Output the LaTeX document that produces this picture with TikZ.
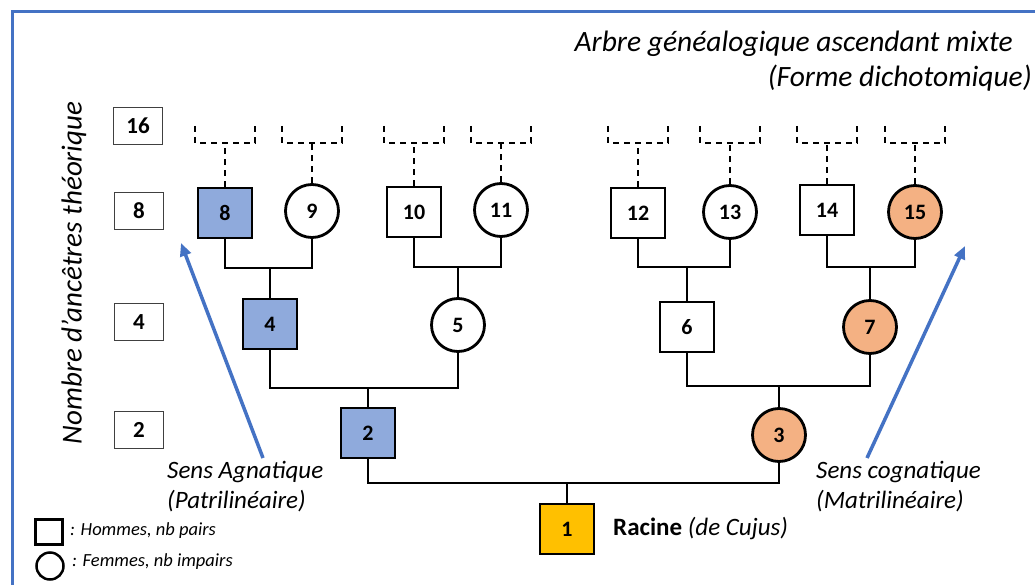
\documentclass[tikz,border=0pt]{standalone}
\usepackage{fontspec}
\setmainfont{Carlito}
\usetikzlibrary{arrows.meta,calc,shapes.geometric}
\definecolor{frameblue}{RGB}{68,114,196}
\definecolor{mblue}{RGB}{143,170,220}
\definecolor{forange}{RGB}{244,177,131}
\definecolor{ryellow}{RGB}{255,192,0}
\tikzset{
  man/.style={draw, line width=2.8pt, minimum width=54pt, minimum height=50pt, inner sep=0pt, font=\bfseries\fontsize{22}{24}\selectfont},
  woman/.style={draw, circle, line width=2.8pt, minimum size=53pt, inner sep=0pt, font=\bfseries\fontsize{22}{24}\selectfont},
  countbox/.style={draw=black!75, line width=1pt, minimum width=49pt, minimum height=37pt, inner sep=0pt, font=\bfseries\fontsize{23}{25}\selectfont},
  link/.style={line width=2pt},
  dashlink/.style={line width=2.2pt, dash pattern=on 6pt off 5pt},
  direction/.style={draw=frameblue, line width=3.5pt, -{Triangle[length=13pt,width=11pt]}},
  sidelabel/.style={anchor=west, align=left, inner sep=0pt, font=\itshape\fontsize{25}{30}\selectfont},
  legendtext/.style={anchor=west, inner sep=0pt, font=\itshape\fontsize{18.5}{20}\selectfont}
}
\newcommand\topbracket[1]{%
  \draw[dashlink] (#1.north) -- (#1.north |- 0,143);
  \draw[dashlink] ($(#1.north |- 0,126)+(-30,0)$) -- ($(#1.north |- 0,143)+(-30,0)$) -- ($(#1.north |- 0,143)+(30,0)$) -- ($(#1.north |- 0,126)+(30,0)$);
}
\newcommand\couple[4]{% left node, right node, child node, y
  \draw[link] (#1.south) -- (#1.south |- 0,#4) -| (#2.south);
  \draw[link] (#3.north) -- (#3.north |- 0,#4);
}
\begin{document}
\begin{tikzpicture}[x=1pt,y=-1pt]
\useasboundingbox (0,0) rectangle (1035,585);
\fill[white] (0,0) rectangle (1035,585);
\draw[frameblue, line width=3pt] (1040,12) -- (12,12) -- (12,590);

% title
\node[anchor=base east, inner sep=0pt, font=\itshape\fontsize{29.5}{32}\selectfont] (t1) at (1013,52) {Arbre généalogique ascendant mixte};
\node[anchor=base east, inner sep=0pt, font=\itshape\fontsize{29.5}{32}\selectfont] (t2) at (1032,87) {(Forme dichotomique)};

% vertical label
\node[rotate=90, inner sep=0pt, font=\itshape\fontsize{29}{32}\selectfont] (vl) at (74,273) {Nombre d'ancêtres théorique};

% count boxes
\node[countbox] (c16) at (138,126) {16};
\node[countbox] (c8) at (139,211) {8};
\node[countbox] (c4) at (139,322) {4};
\node[countbox] (c2) at (139,430) {2};

% generation 8-15
\node[man, fill=mblue] (n8) at (225,213) {8};
\node[woman] (n9) at (312,211) {9};
\node[man] (n10) at (414,212) {10};
\node[woman] (n11) at (501,210) {11};
\node[man] (n12) at (638,213) {12};
\node[woman] (n13) at (730,212) {13};
\node[man] (n14) at (827,210) {14};
\node[woman, fill=forange] (n15) at (915,212) {15};

% generation 4-7
\node[man, fill=mblue] (n4) at (270,324) {4};
\node[woman] (n5) at (458,325) {5};
\node[man] (n6) at (687,327) {6};
\node[woman, fill=forange] (n7) at (870,327) {7};

% generation 2-3
\node[man, fill=mblue] (n2) at (368,433) {2};
\node[woman, fill=forange] (n3) at (779,435) {3};

% root
\node[man, fill=ryellow] (n1) at (567,529) {1};
\node[anchor=west, inner sep=0pt, font=\fontsize{25}{28}\selectfont] (rl) at (613,529) {\textbf{Racine} \textit{(de Cujus)}};

% dashed brackets
\topbracket{n8}\topbracket{n9}\topbracket{n10}\topbracket{n11}
\topbracket{n12}\topbracket{n13}\topbracket{n14}\topbracket{n15}

% couples
\couple{n8}{n9}{n4}{268}
\couple{n10}{n11}{n5}{267}
\couple{n12}{n13}{n6}{267}
\couple{n14}{n15}{n7}{267}
\couple{n4}{n5}{n2}{388}
\couple{n6}{n7}{n3}{386}
\couple{n2}{n3}{n1}{483}

% direction arrows
\coordinate (a1s) at (263,458);
\coordinate (a1e) at (181,243);
\coordinate (a2s) at (867,458);
\coordinate (a2e) at (965,246);
\draw[direction] (a1s) -- (a1e);
\draw[direction] (a2s) -- (a2e);
\node[sidelabel] (sl1) at (167,487) {Sens Agnatique\\(Patrilinéaire)};
\node[sidelabel] (sl2) at (816,487) {Sens cognatique\\(Matrilinéaire)};

% legend
\node[draw, line width=2.5pt, minimum width=27pt, minimum height=25pt, inner sep=0pt] (lg1) at (49,532) {};
\node[draw, circle, line width=2.5pt, minimum size=27pt, inner sep=0pt] (lg2) at (50,566) {};
\node[legendtext] (lt1) at (70,531) {: Hommes, nb pairs};
\node[legendtext] (lt2) at (72,562) {: Femmes, nb impairs};
\end{tikzpicture}
\end{document}
